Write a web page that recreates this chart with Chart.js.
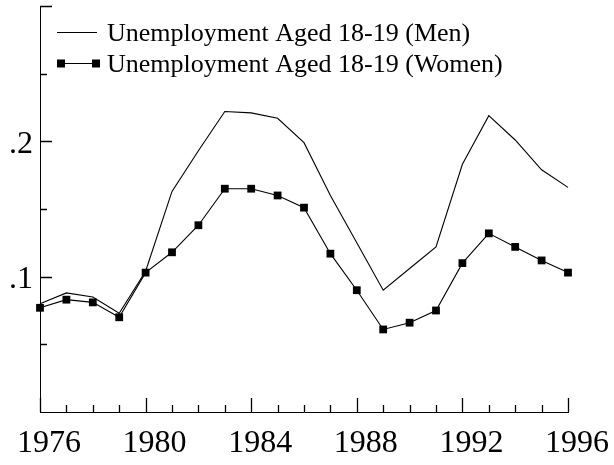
<!DOCTYPE html>
<html><head><meta charset="utf-8">
<script src="https://cdn.jsdelivr.net/npm/chart.js@4"></script>
<style>html,body{margin:0;padding:0;background:#fff}#wrap{width:614px;height:465px}</style>
</head><body><div id="wrap"><canvas id="c" width="614" height="465"></canvas></div>
<script>
const years = [1976,1977,1978,1979,1980,1981,1982,1983,1984,1985,1986,1987,1988,1989,1990,1991,1992,1993,1994,1995,1996];
const men   = [0.080,0.088,0.085,0.073,0.104,0.163,0.193,0.222,0.221,0.217,0.199,0.160,0.125,0.090,0.106,0.122,0.183,0.219,0.201,0.179,0.166];
const women = [0.077,0.083,0.081,0.070,0.103,0.118,0.138,0.165,0.165,0.160,0.151,0.117,0.090,0.061,0.066,0.075,0.110,0.132,0.122,0.112,0.103];
const seriesLabels = ['Unemployment Aged 18-19 (Men)','Unemployment Aged 18-19 (Women)'];
const xTickValues = [1976,1980,1984,1988,1992,1996];
const xTickLabels = ['1976','1980','1984','1988','1992','1996'];
const yTickValues = [0.1,0.2];
const yTickLabels = ['.1','.2'];
const yMajorTicks = [0.1,0.2,0.3];
const yMinorTicks = [0.05,0.15,0.25];

const FONT = '"Liberation Serif","Times New Roman",serif';

const inwardTicks = {
  id: 'inwardTicks',
  afterDraw(chart) {
    const {ctx, chartArea} = chart;
    const xs = chart.scales.x, ys = chart.scales.y;
    const bottom = Math.round(chartArea.bottom);
    const left = Math.round(chartArea.left);
    ctx.save();
    ctx.strokeStyle = '#000';
    ctx.lineWidth = 1.3;
    ctx.beginPath();
    years.forEach(v => {
      const px = Math.round(xs.getPixelForValue(v)) + 0.5;
      const len = xTickValues.includes(v) ? 14 : 7;
      ctx.moveTo(px, bottom);
      ctx.lineTo(px, bottom - len);
    });
    yMajorTicks.forEach(v => {
      const py = Math.round(ys.getPixelForValue(v)) + 0.5;
      ctx.moveTo(left, py);
      ctx.lineTo(left + 12, py);
    });
    yMinorTicks.forEach(v => {
      const py = Math.round(ys.getPixelForValue(v)) + 0.5;
      ctx.moveTo(left, py);
      ctx.lineTo(left + 7, py);
    });
    ctx.stroke();
    ctx.restore();
  }
};

const innerLegend = {
  id: 'innerLegend',
  afterDraw(chart) {
    const {ctx, chartArea} = chart;
    const L = chartArea.left, T = chartArea.top;
    ctx.save();
    ctx.strokeStyle = '#000';
    ctx.fillStyle = '#000';
    ctx.lineWidth = 1;
    ctx.font = '26px ' + FONT;
    ctx.textBaseline = 'alphabetic';
    chart.data.datasets.forEach((ds, i) => {
      const ly = Math.round(T + 26 + i * 31);
      ctx.beginPath();
      ctx.moveTo(L + 17, ly + 0.5);
      ctx.lineTo(L + 57, ly + 0.5);
      ctx.stroke();
      if (ds.pointRadius > 0) {
        ctx.fillRect(L + 17, ly - 3.5, 8, 8);
        ctx.fillRect(L + 52, ly - 3.5, 8, 8);
      }
      ctx.fillText(ds.label, L + 67, ly + 8.5);
    });
    ctx.restore();
  }
};

new Chart(document.getElementById('c'), {
  type: 'line',
  data: {
    datasets: [
      {
        label: seriesLabels[0],
        data: years.map((y, i) => ({x: y, y: men[i]})),
        borderColor: '#000', borderWidth: 1.1,
        pointRadius: 0, tension: 0, fill: false
      },
      {
        label: seriesLabels[1],
        data: years.map((y, i) => ({x: y, y: women[i]})),
        borderColor: '#000', borderWidth: 1.1,
        pointStyle: 'rect', pointRadius: 5.5, pointBorderWidth: 0,
        pointBackgroundColor: '#000', pointBorderColor: '#000',
        tension: 0, fill: false
      }
    ]
  },
  options: {
    responsive: false,
    animation: false,
    devicePixelRatio: 1,
    clip: false,
    layout: { padding: { top: 6, right: 46, left: 0, bottom: 0 } },
    plugins: { legend: { display: false }, tooltip: { enabled: false } },
    scales: {
      x: {
        type: 'linear', min: 1976, max: 1996,
        grid: { display: false, drawTicks: false },
        border: { display: true, color: '#000', width: 1 },
        afterBuildTicks: s => { s.ticks = xTickValues.map(v => ({value: v})); },
        afterFit: s => { s.height = 53; s.paddingLeft = 0; s.paddingRight = 0; s.paddingTop = 0; s.paddingBottom = 0; },
        ticks: {
          autoSkip: false, maxRotation: 0, minRotation: 0,
          padding: 12, labelOffset: 9, color: '#000',
          font: { family: FONT, size: 32 },
          callback: v => xTickLabels[xTickValues.indexOf(v)]
        }
      },
      y: {
        type: 'linear', min: 0, max: 0.3,
        grid: { display: false, drawTicks: false },
        border: { display: true, color: '#000', width: 1 },
        afterBuildTicks: s => { s.ticks = yTickValues.map(v => ({value: v})); },
        afterFit: s => { s.width = 40; s.paddingLeft = 0; s.paddingRight = 0; s.paddingTop = 0; s.paddingBottom = 0; },
        ticks: {
          padding: 7, labelOffset: 3, color: '#000',
          font: { family: FONT, size: 32 },
          callback: v => yTickLabels[yTickValues.indexOf(v)]
        }
      }
    }
  },
  plugins: [inwardTicks, innerLegend]
});
</script></body></html>
